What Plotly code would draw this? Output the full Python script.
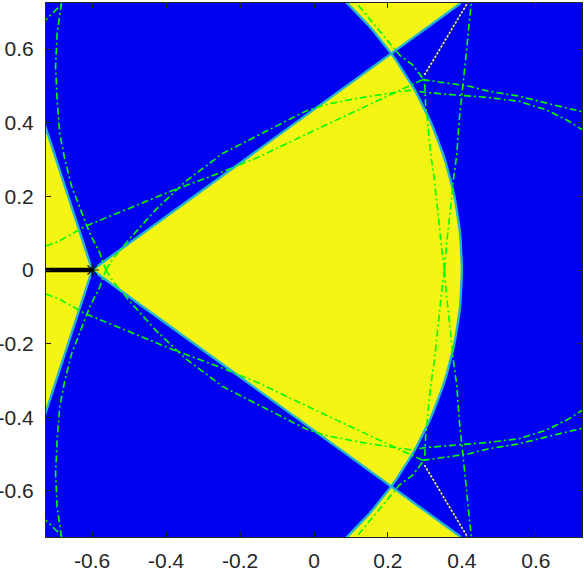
import numpy as np
import plotly.graph_objects as go

# Region geometry: a circle and two pairs of rays through the same point.
center = (-0.6, 0.0)
radius = 1.0
ray_angles_deg = [36, 108]

# Tick positions and labels
tick_vals = [-0.6, -0.4, -0.2, 0, 0.2, 0.4, 0.6]
tick_text = ["-0.6", "-0.4", "-0.2", "0", "0.2", "0.4", "0.6"]
axis_range = [-0.725, 0.725]

# Green dash-dot curves, upper half (the lower half is the mirror image)
arc_left_x = [-0.683, -0.695, -0.699, -0.695, -0.688, -0.674, -0.656, -0.629, -0.607, -0.580, -0.563]
arc_left_y = [0.725, 0.643, 0.553, 0.463, 0.372, 0.300, 0.228, 0.156, 0.101, 0.047, 0.0]

line_b_x = [-0.563, -0.545, -0.500, -0.428, -0.347, -0.248, -0.135, -0.023, 0.031, 0.121, 0.211,
            0.260, 0.303, 0.402, 0.474, 0.555, 0.628, 0.690, 0.725]
line_b_y = [0.0, 0.029, 0.083, 0.164, 0.241, 0.316, 0.374, 0.431, 0.449, 0.467, 0.481,
            0.488, 0.482, 0.474, 0.468, 0.458, 0.435, 0.404, 0.381]

line_a_x = [-0.725, -0.687, -0.620, -0.455, -0.392, -0.239, -0.149, -0.014, 0.121, 0.247, 0.294]
line_a_y = [0.065, 0.080, 0.118, 0.187, 0.212, 0.270, 0.307, 0.372, 0.435, 0.494, 0.517]

line_u_x = [0.294, 0.330, 0.366, 0.420, 0.474, 0.555, 0.645, 0.725]
line_u_y = [0.517, 0.512, 0.508, 0.499, 0.485, 0.472, 0.449, 0.430]

line_d_x = [0.094, 0.114, 0.177, 0.204, 0.231, 0.267, 0.294]
line_d_y = [0.750, 0.726, 0.651, 0.616, 0.584, 0.557, 0.521]

right_outer_x = [0.428, 0.425, 0.418, 0.411, 0.405, 0.398, 0.393, 0.386, 0.377, 0.371, 0.362, 0.357, 0.353]
right_outer_y = [0.750, 0.725, 0.652, 0.580, 0.517, 0.444, 0.408, 0.310, 0.246, 0.183, 0.100, 0.056, 0.0]

right_inner_x = [0.353, 0.345, 0.336, 0.325, 0.315, 0.306, 0.302, 0.299]
right_inner_y = [0.0, 0.060, 0.150, 0.250, 0.320, 0.400, 0.450, 0.517]

corner_x = [-0.735, -0.679]
corner_y = [0.670, 0.725]

# White dotted curve, upper half
dotted_x = [0.299, 0.335, 0.371, 0.416, 0.430]
dotted_y = [0.530, 0.590, 0.652, 0.725, 0.750]

# Thick black segment ending at the star
seg_x = [-0.725, -0.6]
seg_y = [0.0, 0.0]

BLUE = "#0000f2"
YELLOW = "#f5f514"
EDGE = "#22b5cf"
GREEN = "#00ff00"

cx, cy = center
a_in, a_out = np.radians(ray_angles_deg)


def ray(angle, length):
    return cx + length * np.cos(angle), cy + length * np.sin(angle)


def arc(a0, a1, n=80):
    t = np.linspace(a0, a1, n)
    return list(cx + radius * np.cos(t)), list(cy + radius * np.sin(t))


fig = go.Figure()


def add_fill(xs, ys):
    fig.add_trace(go.Scatter(x=xs, y=ys, mode="lines", fill="toself", fillcolor=YELLOW,
                             line=dict(width=0), hoverinfo="skip", showlegend=False))


# main sector inside the circle
ax_, ay_ = arc(-a_in, a_in)
add_fill([cx] + ax_ + [cx], [cy] + ay_ + [cy])

# left wedge
lx1, ly1 = ray(a_out, 2.0)
lx2, ly2 = ray(-a_out, 2.0)
add_fill([cx, lx1, lx2, cx], [cy, ly1, ly2, cy])

# top and bottom pieces outside the circle
a_top = np.radians(58)
for s in (1, -1):
    ax_, ay_ = arc(a_in, a_top)
    rx, ry = ray(a_in, 2.2)
    xs = ax_ + [ax_[-1], rx, ax_[0]]
    ys = ay_ + [1.3, ry, ay_[0]]
    add_fill(xs, [s * v for v in ys])

# boundary edges
edges = []
for ang in (a_in, -a_in):
    x2, y2 = ray(ang, 2.2)
    edges.append(([cx, x2], [cy, y2]))
for ang in (a_out, -a_out):
    x2, y2 = ray(ang, 1.0)
    edges.append(([cx, x2], [cy, y2]))
edges.append(arc(-a_top, a_top))
for xs, ys in edges:
    fig.add_trace(go.Scatter(x=xs, y=ys, mode="lines", line=dict(color=EDGE, width=2.4),
                             hoverinfo="skip", showlegend=False))

# green dash-dot curves and their mirror images
curves = [
    (arc_left_x, arc_left_y), (line_b_x, line_b_y), (line_a_x, line_a_y),
    (line_u_x, line_u_y), (line_d_x, line_d_y), (right_outer_x, right_outer_y),
    (right_inner_x, right_inner_y), (corner_x, corner_y),
]
for xs, ys in curves:
    for s in (1, -1):
        fig.add_trace(go.Scatter(x=xs, y=[s * v for v in ys], mode="lines",
                                 line=dict(color=GREEN, width=1.6, dash="7px,3px,2px,3px"),
                                 hoverinfo="skip", showlegend=False))

# white dotted curve
for s in (1, -1):
    yy = [s * v for v in dotted_y]
    fig.add_trace(go.Scatter(x=dotted_x, y=yy, mode="lines", line=dict(color="#404040", width=1.5),
                             hoverinfo="skip", showlegend=False))
    fig.add_trace(go.Scatter(x=dotted_x, y=yy, mode="lines",
                             line=dict(color="white", width=1.5, dash="2px,2px"),
                             hoverinfo="skip", showlegend=False))

# black segment and star
fig.add_trace(go.Scatter(x=seg_x, y=seg_y, mode="lines", line=dict(color="black", width=4.5),
                         hoverinfo="skip", showlegend=False))
fig.add_trace(go.Scatter(x=[seg_x[-1]], y=[seg_y[-1]], mode="markers",
                         marker=dict(symbol="asterisk-open", size=11, color="black",
                                     line=dict(color="black", width=1.2)),
                         hoverinfo="skip", showlegend=False))

axis_style = dict(range=axis_range, tickvals=tick_vals, ticktext=tick_text,
                  showgrid=False, zeroline=False, ticks="inside", ticklen=5,
                  tickcolor="#262626", showline=True, linecolor="#262626", linewidth=1,
                  mirror="ticks", automargin=False,
                  tickfont=dict(family="Liberation Sans, Arial", size=21, color="#262626"))

fig.update_layout(
    width=584, height=570,
    margin=dict(l=46, r=2, t=3, b=33),
    paper_bgcolor="white", plot_bgcolor=BLUE,
    xaxis=dict(axis_style, ticklabelstandoff=5),
    yaxis=dict(axis_style, ticklabelstandoff=7),
    showlegend=False,
)

# the page's default body margin would shift the figure; remove it
fig.write_html("out.html", config={"displayModeBar": False},
               post_script="document.body.style.margin='0';")
